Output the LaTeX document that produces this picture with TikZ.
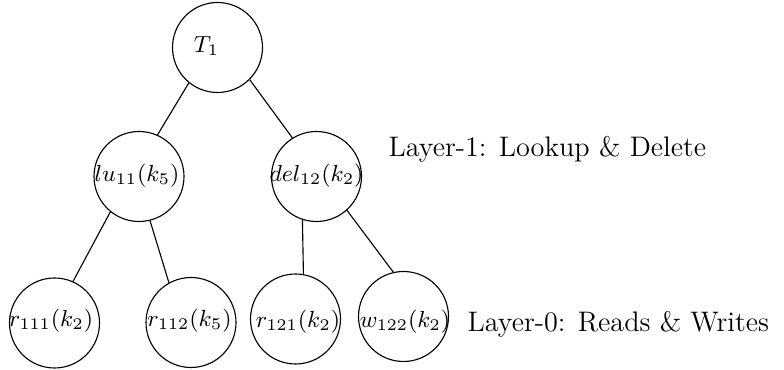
\RequirePackage{fix-cm}
\documentclass[tikz,border=0pt]{standalone}
\begin{document}
\begin{tikzpicture}[x=0.4pt,y=-0.4pt,
  ring/.style={draw,circle,line width=0.45pt,inner sep=0pt,minimum size=36pt},
  lab/.style={inner sep=0pt,anchor=base,font=\fontsize{9.3}{11}\selectfont},
  layer/.style={inner sep=0pt,anchor=base west,font=\fontsize{11.3}{13}\selectfont},
  edge/.style={line width=0.45pt}]
\useasboundingbox (0,0) rectangle (784,370);
% circles
\node[ring] (t1) at (217.5,47.5) {};
\node[ring] (lu) at (139,176.5) {};
\node[ring] (del) at (316.5,176.5) {};
\node[ring] (r111) at (54.5,323) {};
\node[ring] (r112) at (191,322.5) {};
\node[ring] (r121) at (295.5,319) {};
\node[ring] (w122) at (403.5,316.5) {};
% texts
\node[lab] (tt1) at (206.5,53) {$T_1$};
\node[lab] (tlu) at (137,182) {$lu_{11}(k_5)$};
\node[lab] (tdel) at (316.5,182) {$del_{12}(k_2)$};
\node[lab] (tr111) at (51,327) {$r_{111}(k_2)$};
\node[lab] (tr112) at (189.5,327) {$r_{112}(k_5)$};
\node[lab] (tr121) at (298,328) {$r_{121}(k_2)$};
\node[lab] (tw122) at (405,328) {$w_{122}(k_2)$};
\node[layer] (l1) at (388,157) {Layer-1: Lookup \& Delete};
\node[layer] (l0) at (467,332) {Layer-0: Reads \& Writes};
% edges
\draw[edge] (t1.-129.6) -- (lu.66.7);
\draw[edge] (t1.-45) -- (del.122.5);
\draw[edge] (lu.-129.2) -- (r111.66.5);
\draw[edge] (lu.-76.7) -- (r112.119.5);
\draw[edge] (del.-108) -- (r121.80.5);
\draw[edge] (del.-48.4) -- (w122.103.3);
\end{tikzpicture}
\end{document}
